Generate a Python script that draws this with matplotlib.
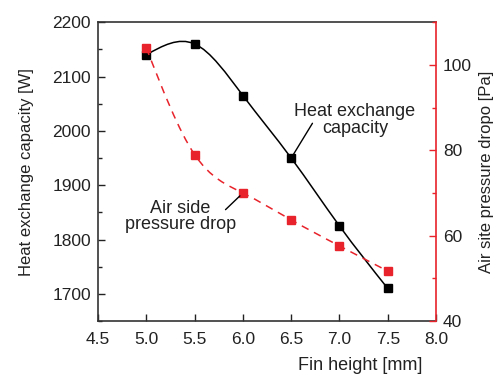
import numpy as np
import matplotlib
matplotlib.use("Agg")
import matplotlib.pyplot as plt
from matplotlib.path import Path
from matplotlib.patches import PathPatch

plt.rcParams['font.family'] = ['Liberation Sans', 'DejaVu Sans']
plt.rcParams['font.size'] = 13

fin_height = [5.0, 5.5, 6.0, 6.5, 7.0, 7.5]
heat_capacity = [2140, 2160, 2065, 1950, 1825, 1710]
pressure_drop = [104, 79, 70, 63.7, 57.6, 51.7]

TXT = '#222222'
RED = '#e8232b'


def spline_path(x, y):
    # natural cubic spline written as bezier segments
    x = np.asarray(x, float)
    y = np.asarray(y, float)
    n = len(x)
    h = np.diff(x)
    A = np.zeros((n, n))
    b = np.zeros(n)
    A[0, 0] = 1
    A[-1, -1] = 1
    for i in range(1, n - 1):
        A[i, i - 1] = h[i - 1]
        A[i, i] = 2 * (h[i - 1] + h[i])
        A[i, i + 1] = h[i]
        b[i] = 6 * ((y[i + 1] - y[i]) / h[i] - (y[i] - y[i - 1]) / h[i - 1])
    M = np.linalg.solve(A, b)
    m = np.zeros(n)
    for i in range(n - 1):
        m[i] = (y[i + 1] - y[i]) / h[i] - h[i] * (2 * M[i] + M[i + 1]) / 6
    m[-1] = (y[-1] - y[-2]) / h[-1] + h[-1] * (M[-2] + 2 * M[-1]) / 6
    verts = [(x[0], y[0])]
    codes = [Path.MOVETO]
    for i in range(n - 1):
        d = h[i] / 3
        verts += [(x[i] + d, y[i] + d * m[i]),
                  (x[i + 1] - d, y[i + 1] - d * m[i + 1]),
                  (x[i + 1], y[i + 1])]
        codes += [Path.CURVE4] * 3
    return Path(verts, codes)


fig = plt.figure(figsize=(4.95, 3.76), dpi=100)
ax = fig.add_axes([0.198, 0.146, 0.683, 0.795])
ax2 = ax.twinx()

ax.add_patch(PathPatch(spline_path(fin_height, heat_capacity), fill=False,
                       edgecolor='black', lw=1.1, transform=ax.transData))
ax.plot(fin_height, heat_capacity, 's', color='black', ms=6, zorder=3)

ax2.add_patch(PathPatch(spline_path(fin_height, pressure_drop), fill=False,
                        edgecolor=RED, lw=1.1, ls=(0, (5, 4)), transform=ax2.transData))
ax2.plot(fin_height, pressure_drop, 's', color=RED, ms=6, zorder=3)

ax.set_xlim(4.5, 8.0)
ax.set_ylim(1650, 2200)
ax2.set_ylim(40, 110)
ax.set_xticks(np.arange(4.5, 8.01, 0.5))
ax.set_xticklabels(['%.1f' % v for v in np.arange(4.5, 8.01, 0.5)])
ax.set_yticks([1700, 1800, 1900, 2000, 2100, 2200])
ax.set_yticks(np.arange(1650, 2200, 50), minor=True)
ax2.set_yticks([40, 60, 80, 100])
ax2.set_yticks(np.arange(40, 111, 10), minor=True)

ax.tick_params(direction='in', length=5, width=1, colors=TXT, labelsize=12.5)
ax.tick_params(which='minor', direction='in', length=3, width=1, colors=TXT)
ax.tick_params(axis='x', pad=8)
ax.tick_params(axis='y', pad=5)
ax2.tick_params(direction='in', length=5, width=1, color=RED, labelcolor=TXT, labelsize=12.5, pad=5)
ax2.tick_params(which='minor', direction='in', length=3, width=1, color=RED)

for s in ['left', 'top', 'bottom']:
    ax.spines[s].set_color('#333333')
    ax.spines[s].set_linewidth(1.2)
ax2.spines['right'].set_color(RED)
ax2.spines['right'].set_linewidth(1.2)
ax.spines['right'].set_visible(False)
for s in ['left', 'top', 'bottom']:
    ax2.spines[s].set_visible(False)

ax.set_ylabel('Heat exchange capacity [W]', color=TXT, fontsize=12, labelpad=13)
ax2.set_ylabel('Air site pressure dropo [Pa]', color=TXT, fontsize=12, labelpad=5)
ax.set_xlabel('Fin height [mm]', color=TXT, fontsize=13, x=0.775, labelpad=7)

ax.text(7.16, 2020, 'Heat exchange\ncapacity', ha='center', va='center',
        color=TXT, fontsize=13, linespacing=0.95)
ax.annotate('', xy=(6.5, 1950), xytext=(6.72, 2014),
            arrowprops=dict(arrowstyle='-', color='black', lw=1, shrinkA=0, shrinkB=3))
ax2.text(5.35, 64.5, 'Air side\npressure drop', ha='center', va='center',
         color=TXT, fontsize=13, linespacing=0.95)
ax2.annotate('', xy=(6.0, 70), xytext=(5.82, 66.1),
             arrowprops=dict(arrowstyle='-', color='black', lw=1, shrinkA=0, shrinkB=3))

fig.savefig('out.png', dpi=100)
